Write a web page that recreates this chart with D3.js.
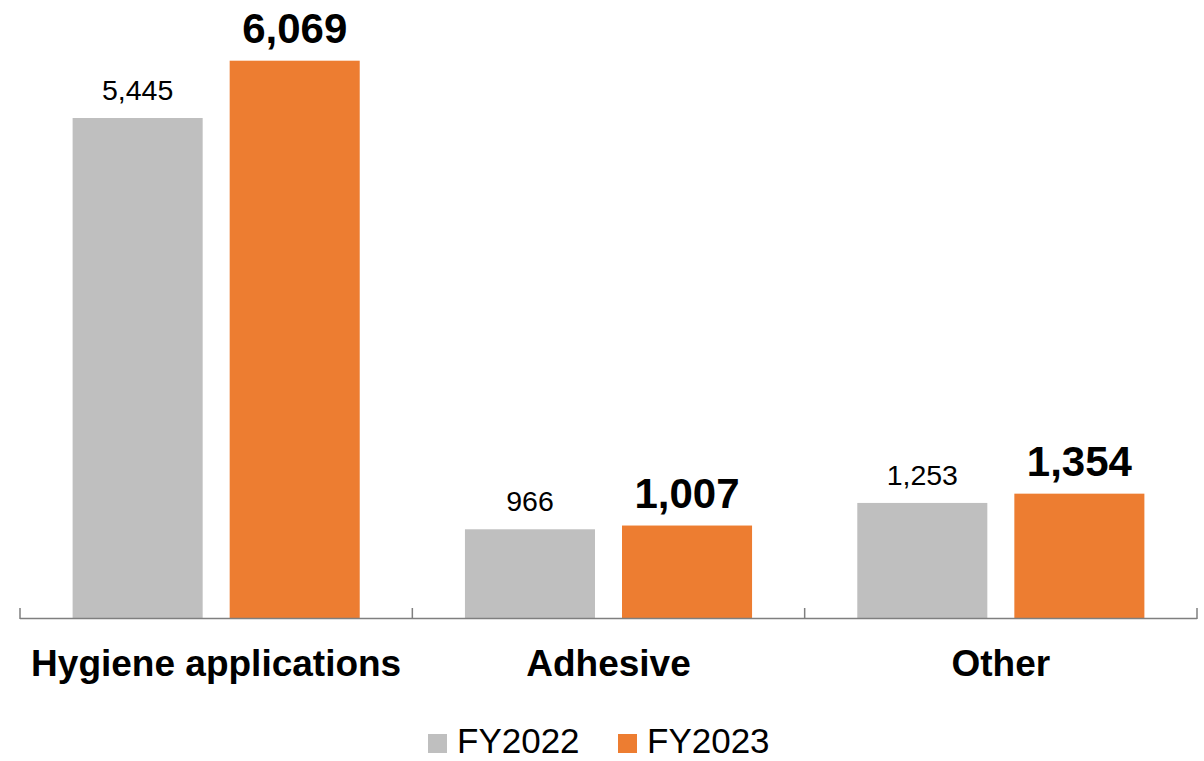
<!DOCTYPE html>
<html>
<head>
<meta charset="utf-8">
<script src="https://cdn.jsdelivr.net/npm/d3@7"></script>
<style>
  html, body { margin: 0; padding: 0; background: #fff; }
  svg { display: block; font-family: "Liberation Sans", Arial, sans-serif; }
</style>
</head>
<body>
<svg id="chart" width="1204" height="761"></svg>
<script>
// Sales by application segment
const categories = ["Hygiene applications", "Adhesive", "Other"];
const seriesNames = ["FY2022", "FY2023"];
const fy2022 = [5445, 966, 1253];
const fy2023 = [6069, 1007, 1354];
const seriesColors = ["#BFBFBF", "#ED7D31"];

const svg = d3.select("#chart");
const baseY = 618;

const x0 = d3.scaleBand().domain(categories).range([20, 1197]).paddingInner(0).paddingOuter(0);
const x1 = d3.scaleBand().domain(seriesNames).range([0, x0.bandwidth()])
  .paddingInner(0.172).paddingOuter(0.335);
const y = d3.scaleLinear().domain([0, 6730]).range([baseY, 0]);
const color = d3.scaleOrdinal().domain(seriesNames).range(seriesColors);

const rows = categories.map((c, i) => ({
  category: c,
  values: [
    { series: seriesNames[0], value: fy2022[i] },
    { series: seriesNames[1], value: fy2023[i] }
  ]
}));

const fmt = d3.format(",");

const groups = svg.selectAll("g.group").data(rows).join("g")
  .attr("class", "group")
  .attr("transform", d => `translate(${x0(d.category)},0)`);

groups.selectAll("rect").data(d => d.values).join("rect")
  .attr("x", d => x1(d.series))
  .attr("y", d => y(d.value))
  .attr("width", x1.bandwidth())
  .attr("height", d => baseY - y(d.value))
  .attr("fill", d => color(d.series));

groups.selectAll("text.val").data(d => d.values).join("text")
  .attr("class", "val")
  .attr("x", d => x1(d.series) + x1.bandwidth() / 2)
  .attr("y", d => y(d.value) - 18)
  .attr("text-anchor", "middle")
  .attr("fill", "#000")
  .attr("font-size", d => d.series === "FY2023" ? 42 : 28.5)
  .attr("font-weight", d => d.series === "FY2023" ? "bold" : "normal")
  .text(d => fmt(d.value));

// Category axis: baseline with dividers between groups
const bounds = categories.map(c => x0(c)).concat([x0.range()[1]]);
const axis = svg.append("g").attr("class", "axis");
axis.append("line")
  .attr("x1", x0.range()[0]).attr("x2", x0.range()[1])
  .attr("y1", baseY + 0.5).attr("y2", baseY + 0.5)
  .attr("stroke", "#7F7F7F").attr("stroke-width", 1.5);
axis.selectAll("line.tick").data(bounds).join("line")
  .attr("class", "tick")
  .attr("x1", d => d).attr("x2", d => d)
  .attr("y1", baseY - 10).attr("y2", baseY + 1)
  .attr("stroke", "#7F7F7F").attr("stroke-width", 1.5);

axis.selectAll("text.cat").data(categories).join("text")
  .attr("class", "cat")
  .attr("x", d => x0(d) + x0.bandwidth() / 2)
  .attr("y", 676)
  .attr("text-anchor", "middle")
  .attr("font-size", 37)
  .attr("font-weight", "bold")
  .attr("fill", "#000")
  .text(d => d);

// Legend
const legendX = [428, 618];
const legend = svg.selectAll("g.legend").data(seriesNames).join("g")
  .attr("class", "legend")
  .attr("transform", (d, i) => `translate(${legendX[i]},734)`);
legend.append("rect").attr("width", 19).attr("height", 19).attr("fill", d => color(d));
legend.append("text")
  .attr("x", 29).attr("y", 19)
  .attr("font-size", 35)
  .attr("fill", "#000")
  .text(d => d);
</script>
</body>
</html>
